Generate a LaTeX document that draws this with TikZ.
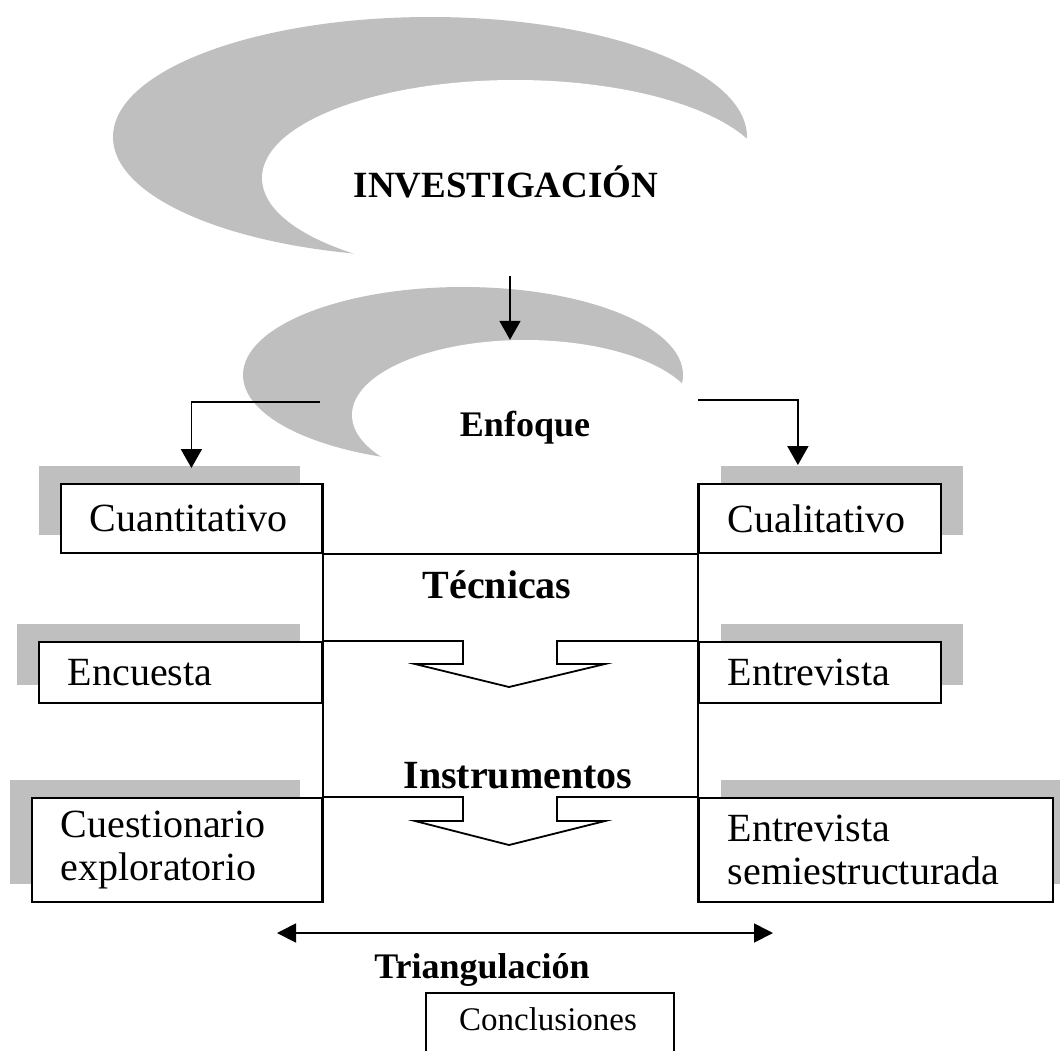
\documentclass[tikz,border=0pt]{standalone}
\usepackage{fontspec}
\setmainfont{Liberation Serif}
\usepackage{tikz}
\definecolor{grissombra}{rgb}{0.75, 0.75, 0.75}
\usetikzlibrary{shapes.geometric, shadows, arrows.meta}

\tikzset{
	caja/.style={draw, line width=1.8pt, fill=white, anchor=north west, align=left, inner xsep=29pt, inner ysep=0pt, font=\fontsize{40}{43}\selectfont},
	sombraizq/.style={drop shadow={opacity=1, fill=grissombra, shadow xshift=-22pt, shadow yshift=18pt}},
	sombrader/.style={drop shadow={opacity=1, fill=grissombra, shadow xshift=22pt, shadow yshift=18pt}},
	titulo/.style={font=\fontsize{40}{44}\selectfont\bfseries},
	subtitulo/.style={font=\fontsize{36}{40}\selectfont\bfseries},
	medialuna/.style={ellipse, inner sep=0pt, fill=grissombra},
	hueco/.style={ellipse, inner sep=0pt, fill=white},
	linea/.style={line width=1.8pt, line join=miter},
	flecha/.style={line width=1.8pt, -{Triangle[width=21pt, length=19pt]}}
}

\begin{document}
\begin{tikzpicture}[x=1pt, y=-1pt]
			\useasboundingbox (0,0) rectangle (1060,1050);
			
			% medias lunas
			\node[medialuna, minimum width=634pt, minimum height=240pt] (invfondo) at (430,137) {};
			\node[hueco, minimum width=506pt, minimum height=196pt] (inv) at (515,178) {};
			\node[subtitulo, font=\fontsize{37}{40}\selectfont\bfseries] (invtxt) at (506,182) {INVESTIGACIÓN};
			
			\node[medialuna, minimum width=440pt, minimum height=176pt] (enffondo) at (463,375) {};
			\node[hueco, minimum width=346pt, minimum height=150pt] (enf) at (525,415) {};
			\node[subtitulo] (enftxt) at (525,428) {Enfoque};
			
			% cajas
			\node[caja, sombraizq, text width=203pt, minimum height=69pt] (cuanti) at (60,483) {Cuantitativo};
			\node[caja, sombrader, text width=184pt, minimum height=69pt] (cuali) at (698,483) {Cualitativo};
			\node[caja, sombraizq, text width=225pt, minimum height=61pt] (encu) at (38,641) {Encuesta};
			\node[caja, sombrader, text width=184pt, minimum height=61pt] (entre) at (698,641) {Entrevista};
			\node[caja, sombraizq, text width=232pt, minimum height=104pt] (cuest) at (31,797) {Cuestionario\\exploratorio};
			\node[caja, sombrader, text width=296pt, minimum height=104pt] (semi) at (698,797) {Entrevista\\semiestructurada};
			
			\node[titulo] (tec) at (497,585) {Técnicas};
			\node[titulo] (inst) at (518,776) {Instrumentos};
			\node[subtitulo] (tri) at (482,970) {Triangulación};
			
			\node[draw, line width=1.8pt, anchor=north west, minimum width=248pt, minimum height=100pt] (conclcaja) at (425,992) {};
			\node[font=\fontsize{33}{36}\selectfont] (concl) at (548,1019) {Conclusiones};
			
			% lineas
			\draw[linea] (cuanti.north east) -- (cuest.south east);
			\draw[linea] (cuali.north west) -- (semi.south west);
			\draw[linea] (cuanti.south east) -- (cuali.south west);
			\draw[linea] (encu.north east) -- (463,641) -- (463,664) -- (415,664) -- (509,687) -- (605,664) -- (557,664) -- (557,641) -- (entre.north west);
			\draw[linea] (cuest.north east) -- (463,797) -- (463,821) -- (415,821) -- (509,845) -- (605,821) -- (557,821) -- (557,797) -- (semi.north west);
			
			% flechas
			\coordinate (salidaizq) at (320,402);
			\coordinate (salidader) at (698,400);
			\draw[flecha] ([xshift=-5pt]inv.south) -- ([xshift=-5pt]inv.south |- enf.north);
			\draw[flecha] (salidaizq) -| ([yshift=15pt]cuanti.north);
			\draw[flecha] (salidader) -| ([xshift=-22pt, yshift=18pt]cuali.north);
			
			\coordinate (triizq) at (277,933);
			\coordinate (trider) at (773,933);
			\draw[linea, {Triangle[width=19pt, length=19pt]}-{Triangle[width=19pt, length=19pt]}] (triizq) -- (trider);
			
			\end{tikzpicture}
\end{document}
